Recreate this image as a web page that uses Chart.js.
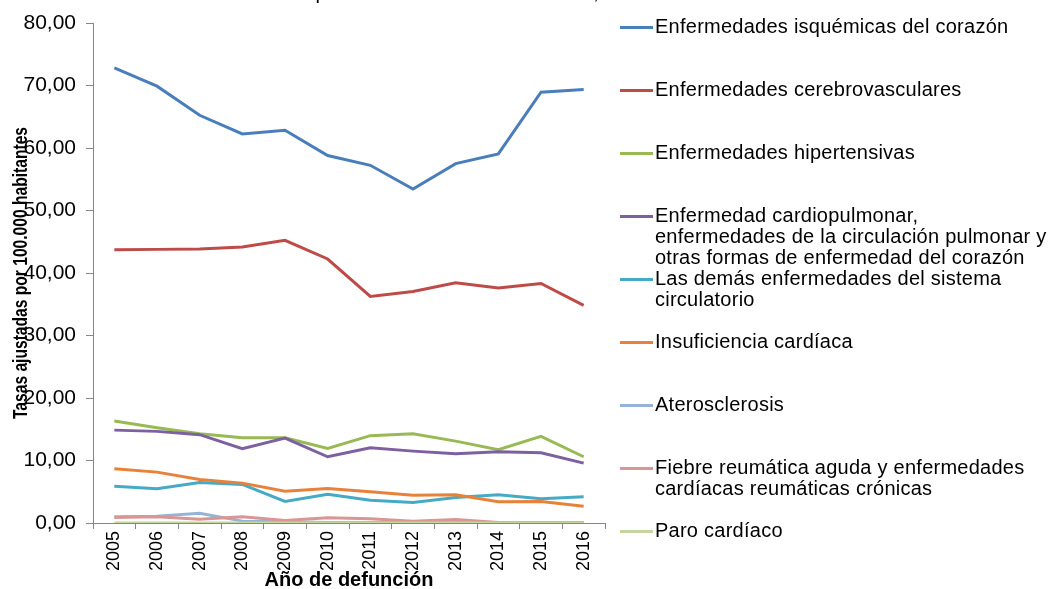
<!DOCTYPE html>
<html>
<head>
<meta charset="utf-8">
<script src="https://cdn.jsdelivr.net/npm/chart.js@4/dist/chart.umd.min.js"></script>
<style>
  html, body { margin: 0; padding: 0; background: #fff; }
  #wrap { position: relative; width: 1049px; height: 589px; overflow: hidden; }
  #c { position: absolute; left: 0; top: 0; }
  #legend { position: absolute; left: 0; top: 0; width: 1049px; height: 589px; pointer-events: none;
            font-family: "Liberation Sans", Arial, sans-serif; font-size: 20px; letter-spacing: 0.25px; color: #000; }
  .li-line { position: absolute; left: 620px; width: 33px; height: 3px; }
  .li-text { position: absolute; left: 655px; line-height: 21px; white-space: nowrap; }
</style>
</head>
<body>
<div id="wrap">
  <canvas id="c" width="1049" height="589"></canvas>
  <div id="legend"></div>
</div>
<script>
const years = ["2005","2006","2007","2008","2009","2010","2011","2012","2013","2014","2015","2016"];

const isquemicas      = [72.83, 69.89, 65.24, 62.26, 62.84, 58.79, 57.23, 53.45, 57.50, 59.06, 68.93, 69.36];
const cerebrovasc     = [43.73, 43.78, 43.84, 44.16, 45.22, 42.24, 36.25, 37.05, 38.44, 37.59, 38.33, 34.81];
const hipertensivas   = [16.31, 15.25, 14.29, 13.65, 13.65, 11.93, 13.97, 14.29, 13.10, 11.73, 13.86, 10.60];
const cardiopulmonar  = [14.86, 14.66, 14.13, 11.89, 13.58, 10.60, 12.05, 11.50, 11.08, 11.40, 11.24, 9.58];
const demasCirc       = [5.89, 5.48, 6.49, 6.17, 3.44, 4.61, 3.65, 3.28, 4.08, 4.52, 3.88, 4.20];
const insuficiencia   = [8.68, 8.14, 6.97, 6.38, 5.09, 5.53, 5.00, 4.45, 4.52, 3.40, 3.44, 2.69];
const aterosclerosis  = [1.00, 1.10, 1.57, 0.30, 0.20, 0.08, 0.10, 0.15, 0.10, 0.05, 0.05, 0.05];
const fiebreReum      = [0.88, 0.99, 0.61, 0.99, 0.40, 0.83, 0.67, 0.29, 0.56, 0.08, 0.10, 0.10];
const paroCardiaco    = [0.02, 0.02, 0.02, 0.02, 0.02, 0.02, 0.02, 0.02, 0.02, 0.02, 0.02, 0.02];

const seriesLabels = [
  ["Enfermedades isquémicas del corazón"],
  ["Enfermedades cerebrovasculares"],
  ["Enfermedades hipertensivas"],
  ["Enfermedad cardiopulmonar,", "enfermedades de la circulación pulmonar y", "otras formas de enfermedad del corazón"],
  ["Las demás enfermedades del sistema", "circulatorio"],
  ["Insuficiencia cardíaca"],
  ["Aterosclerosis"],
  ["Fiebre reumática aguda y enfermedades", "cardíacas reumáticas crónicas"],
  ["Paro cardíaco"]
];
const seriesValues = [isquemicas, cerebrovasc, hipertensivas, cardiopulmonar, demasCirc, insuficiencia, aterosclerosis, fiebreReum, paroCardiaco];
const seriesColors = ["#4A7EBB", "#BE4B48", "#98B954", "#7D60A0", "#46AAC5", "#E8823A", "#95B3D7", "#D99694", "#C3D69B"];

const yTickValues = [0, 10, 20, 30, 40, 50, 60, 70, 80];
const chartTitle = "Departamento del Valle del Cauca,";
const yTitle = "Tasas ajustadas por 100.000 habitantes";
const xTitle = "Año de defunción";

const datasets = seriesValues.map((vals, i) => ({
  label: seriesLabels[i].join(" "),
  data: vals,
  borderColor: seriesColors[i],
  backgroundColor: seriesColors[i],
  borderWidth: 3,
  pointRadius: 0,
  tension: 0,
  fill: false,
  order: seriesValues.length - i
}));

const textPlugin = {
  id: 'extraText',
  afterDraw(chart) {
    const ctx = chart.ctx;
    // partially cropped title at the very top
    ctx.save();
    ctx.font = '20px "Liberation Sans", Arial, sans-serif';
    ctx.fillStyle = '#000';
    ctx.textAlign = 'left';
    ctx.textBaseline = 'alphabetic';
    ctx.fillText(chartTitle, 290, -1);
    ctx.restore();
    // condensed, rotated y-axis title overlapping the tick labels
    const ca = chart.chartArea;
    ctx.save();
    ctx.font = 'bold 20px "Liberation Sans", Arial, sans-serif';
    ctx.fillStyle = '#000';
    ctx.textAlign = 'center';
    ctx.textBaseline = 'middle';
    const w = ctx.measureText(yTitle).width;
    const target = 292;
    ctx.translate(21, (ca.top + ca.bottom) / 2);
    ctx.rotate(-Math.PI / 2);
    ctx.scale(target / w, 1);
    ctx.fillText(yTitle, 0, 0);
    ctx.restore();
  }
};

const axisColor = '#868686';
new Chart(document.getElementById('c'), {
  type: 'line',
  data: { labels: years, datasets },
  options: {
    responsive: false,
    animation: false,
    devicePixelRatio: 1,
    layout: { padding: { left: 0, right: 444, top: 23, bottom: 0 } },
    plugins: { legend: { display: false }, tooltip: { enabled: false }, title: { display: false } },
    scales: {
      x: {
        offset: true,
        grid: { display: true, drawOnChartArea: false, drawTicks: true, tickLength: 6, offset: true, color: axisColor },
        border: { display: true, color: axisColor, width: 1 },
        ticks: { color: '#000', minRotation: 90, maxRotation: 90, padding: 2,
                 font: { family: '"Liberation Sans", Arial, sans-serif', size: 18 } },
        title: { display: true, text: xTitle, color: '#000', padding: { top: 0, bottom: -1 },
                 font: { family: '"Liberation Sans", Arial, sans-serif', size: 20, weight: 'bold', lineHeight: 1 } },
        afterFit(s) { s.height = 66; }
      },
      y: {
        min: 0, max: 80,
        afterBuildTicks(s) { s.ticks = yTickValues.map(v => ({ value: v })); },
        grid: { display: true, drawOnChartArea: false, drawTicks: true, tickLength: 7, color: axisColor },
        border: { display: true, color: axisColor, width: 1 },
        ticks: { color: '#000', padding: 10,
                 font: { family: '"Liberation Sans", Arial, sans-serif', size: 21 },
                 callback: v => Number(v).toFixed(2).replace('.', ',') },
        afterFit(s) { s.width = 93; }
      }
    }
  },
  plugins: [textPlugin]
});

// Legend (HTML) built from the series labels and colours
const legend = document.getElementById('legend');
seriesLabels.forEach((lines, i) => {
  const cy = 27 + 63 * i;
  const ln = document.createElement('div');
  ln.className = 'li-line';
  ln.style.top = (cy - 1) + 'px';
  ln.style.background = seriesColors[i];
  legend.appendChild(ln);
  const tx = document.createElement('div');
  tx.className = 'li-text';
  tx.style.top = (cy - 11) + 'px';
  lines.forEach((t, k) => {
    if (k) tx.appendChild(document.createElement('br'));
    tx.appendChild(document.createTextNode(t));
  });
  legend.appendChild(tx);
});
</script>
</body>
</html>
